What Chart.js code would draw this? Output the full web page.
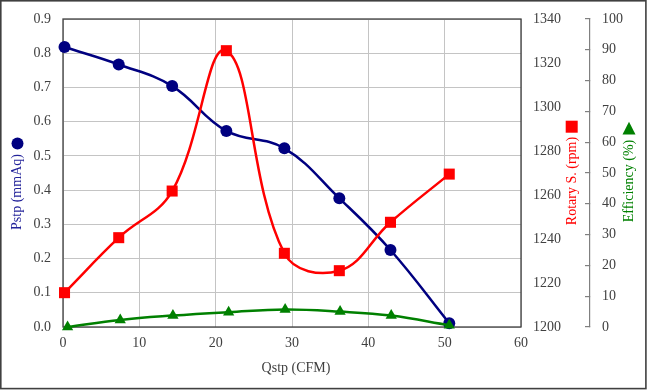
<!DOCTYPE html>
<html><head><meta charset="utf-8">
<script src="https://cdn.jsdelivr.net/npm/chart.js@4.4.1/dist/chart.umd.min.js"></script>
<style>html,body{margin:0;padding:0;background:#fff;}canvas{display:block;}</style>
</head><body>
<canvas id="c" width="647" height="390"></canvas>
<script>
// ---- data ----
const qstp = [0.2, 7.3, 14.3, 21.4, 29.0, 36.2, 42.9, 50.6];
const pstp = [0.818, 0.767, 0.704, 0.573, 0.522, 0.376, 0.225, 0.011];
const rotary = [1215.6, 1240.6, 1261.8, 1325.6, 1233.5, 1225.6, 1247.6, 1269.5];
const qstpEff = [0.6, 7.5, 14.4, 21.7, 29.1, 36.3, 43.0, 50.6];
const efficiency = [0.0, 2.3, 3.7, 4.8, 5.7, 5.0, 3.7, 0.6];

const xTitle = 'Qstp (CFM)';
const pstpTitle = 'Pstp (mmAq)';
const rotaryTitle = 'Rotary S. (rpm)';
const effTitle = 'Efficiency (%)';

const FONT = "'Liberation Serif', 'Times New Roman', serif";
const TICK = '#404040';
const GRID = '#c4c4c4';
const NAVY = '#000080';
const RED = '#ff0000';
const GREEN = '#008000';

const pts = (xs, ys) => xs.map((x, i) => ({x: x, y: ys[i]}));

const fitV = w => s => { s.width = w; s.paddingTop = 0; s.paddingBottom = 0; };
const fitH = h => s => { s.height = h; s.paddingLeft = 0; s.paddingRight = 0; };

const decor = {
  id: 'decor',
  beforeDraw(chart) {
    const ctx = chart.ctx;
    ctx.save();
    ctx.fillStyle = '#fff';
    ctx.fillRect(0, 0, chart.width, chart.height);
    ctx.restore();
  },
  beforeDatasetsDraw(chart) {
    const {ctx, chartArea: a} = chart;
    ctx.save();
    ctx.strokeStyle = '#404040';
    ctx.lineWidth = 1.3;
    ctx.strokeRect(a.left, a.top, a.right - a.left, a.bottom - a.top);
    ctx.restore();
  },
  afterDraw(chart) {
    const ctx = chart.ctx;
    ctx.save();
    ctx.font = '14px ' + FONT;
    ctx.textAlign = 'center';
    ctx.textBaseline = 'middle';
    ctx.fillStyle = TICK;
    ctx.fillText(xTitle, 296, 368);
    const vt = (txt, x, y, col) => {
      ctx.save();
      ctx.translate(x, y);
      ctx.rotate(-Math.PI / 2);
      ctx.fillStyle = col;
      ctx.fillText(txt, 0, 0);
      ctx.restore();
    };
    vt(pstpTitle, 17, 192, '#23239a');
    vt(rotaryTitle, 572, 181, RED);
    vt(effTitle, 629, 181, GREEN);
    ctx.fillStyle = NAVY;
    ctx.beginPath();
    ctx.arc(17.5, 143.5, 6, 0, Math.PI * 2);
    ctx.fill();
    ctx.fillStyle = RED;
    ctx.fillRect(565.7, 120.7, 12, 12);
    ctx.fillStyle = GREEN;
    ctx.beginPath();
    ctx.moveTo(629, 121.7);
    ctx.lineTo(635.5, 134.5);
    ctx.lineTo(622.5, 134.5);
    ctx.closePath();
    ctx.fill();
    ctx.strokeStyle = '#404040';
    ctx.lineWidth = 1.6;
    ctx.strokeRect(0.8, 0.8, chart.width - 1.9, chart.height - 2.2);
    ctx.restore();
  }
};

new Chart(document.getElementById('c'), {
  type: 'line',
  data: {
    datasets: [
      {
        label: pstpTitle, data: pts(qstp, pstp), yAxisID: 'y',
        borderColor: NAVY, backgroundColor: NAVY, borderWidth: 2.5,
        pointStyle: 'circle', pointRadius: 6, pointBorderWidth: 0,
        tension: 0.4, clip: false, order: 3
      },
      {
        label: rotaryTitle, data: pts(qstp, rotary), yAxisID: 'y1',
        borderColor: RED, backgroundColor: RED, borderWidth: 2.5,
        pointStyle: 'rect', pointRadius: 7.8, pointBorderWidth: 0,
        tension: 0.4, clip: false, order: 2
      },
      {
        label: effTitle, data: pts(qstpEff, efficiency), yAxisID: 'y2',
        borderColor: GREEN, backgroundColor: GREEN, borderWidth: 2.5,
        pointStyle: 'triangle', pointRadius: 6.5, pointBorderWidth: 0,
        tension: 0.4, clip: false, order: 1
      }
    ]
  },
  options: {
    responsive: false,
    animation: false,
    devicePixelRatio: 1,
    layout: {padding: {top: 19, left: 0, right: 0, bottom: 0}},
    plugins: {legend: {display: false}, tooltip: {enabled: false}},
    scales: {
      x: {
        type: 'linear', position: 'bottom', min: 0, max: 60,
        afterFit: fitH(63),
        ticks: {stepSize: 10, color: TICK, font: {family: FONT, size: 14}, padding: 8, maxRotation: 0},
        grid: {color: GRID, drawTicks: false},
        border: {display: false}
      },
      y: {
        position: 'left', min: 0, max: 0.9,
        afterFit: fitV(63),
        ticks: {stepSize: 0.1, color: TICK, font: {family: FONT, size: 14}, padding: 12,
                callback: v => Number(v).toFixed(1)},
        grid: {color: GRID, drawTicks: false},
        border: {display: false}
      },
      y1: {
        position: 'right', min: 1200, max: 1340,
        afterFit: fitV(69),
        ticks: {stepSize: 20, color: TICK, font: {family: FONT, size: 14}, padding: 12,
                callback: v => String(Math.round(v))},
        grid: {drawOnChartArea: false, drawTicks: false},
        border: {display: false}
      },
      y2: {
        position: 'right', min: 0, max: 100,
        afterFit: fitV(57),
        ticks: {stepSize: 10, color: TICK, font: {family: FONT, size: 14}, padding: 17},
        grid: {drawOnChartArea: false, drawTicks: true, tickLength: -5, color: '#808080', lineWidth: 1.2},
        border: {display: true, color: '#808080', width: 1.2}
      }
    }
  },
  plugins: [decor]
});
</script>
</body></html>
